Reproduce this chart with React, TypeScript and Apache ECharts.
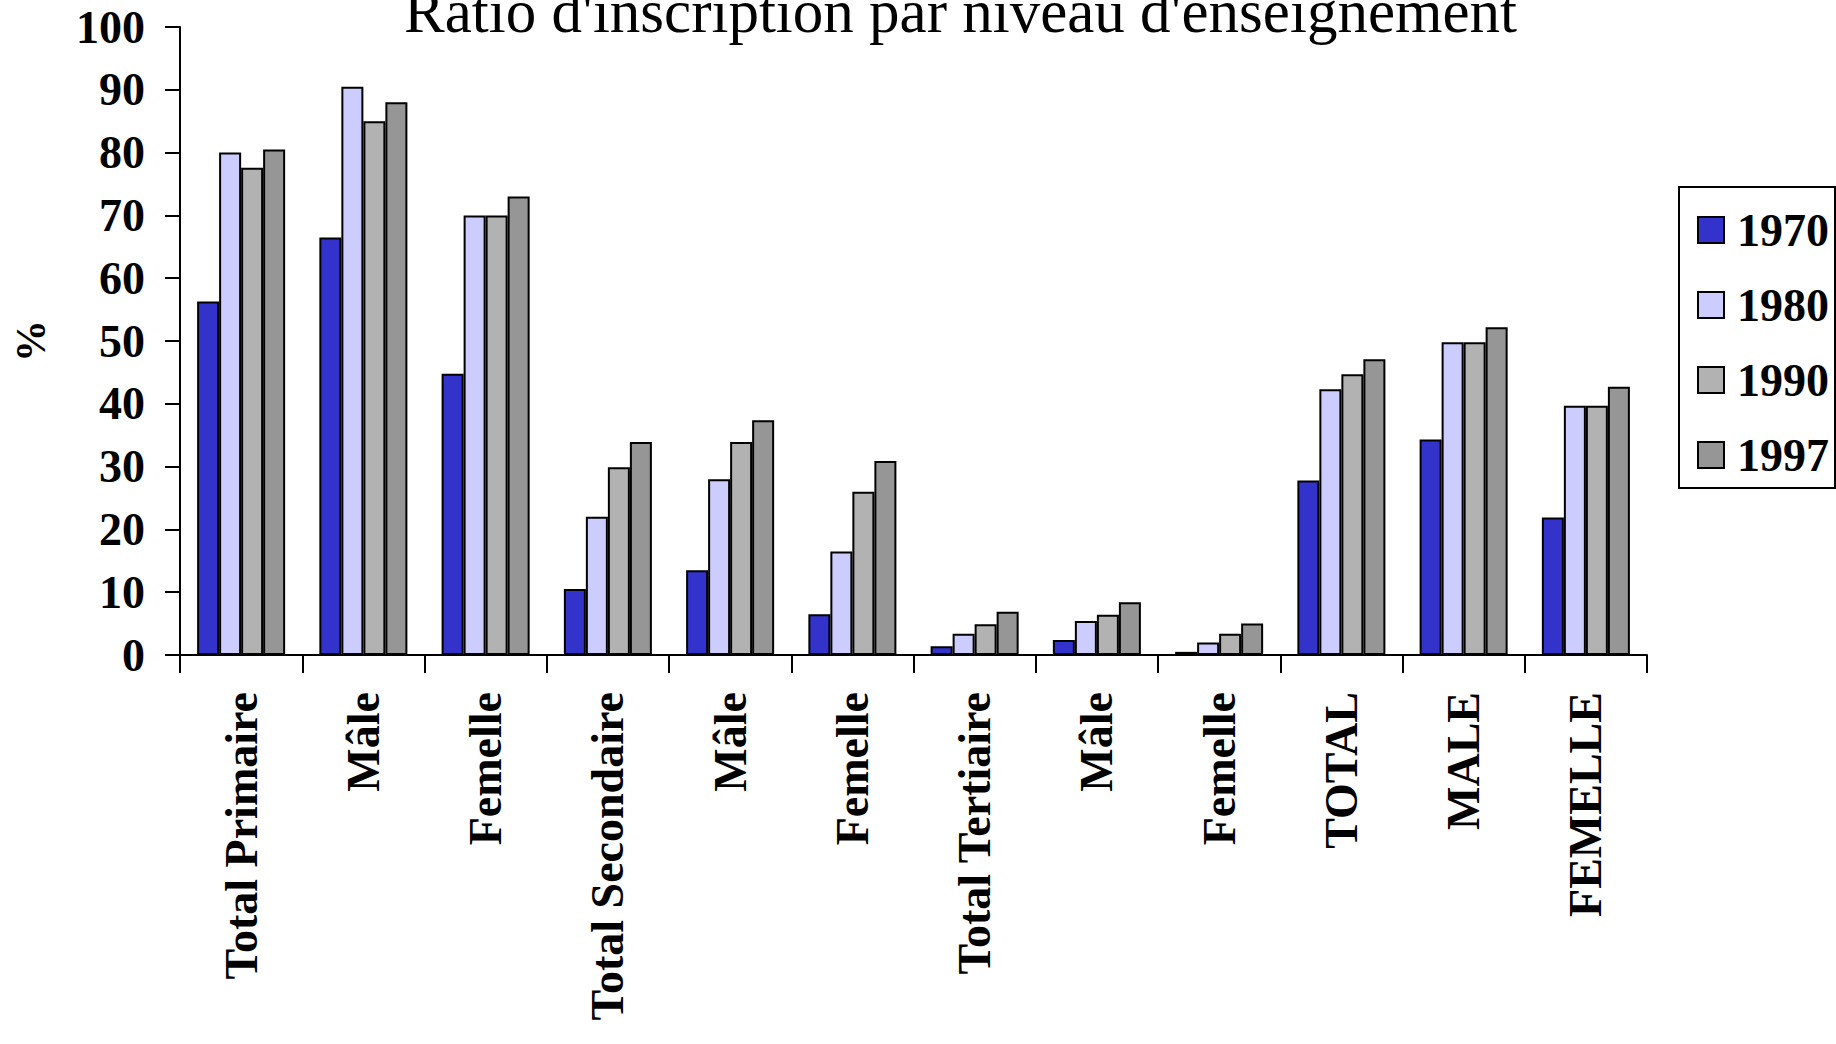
import React, { useEffect, useRef } from "react";
import * as echarts from "echarts";

const titleText = "Ratio d'inscription par niveau d'enseignement";
const categories = [
  "Total Primaire",
  "Mâle",
  "Femelle",
  "Total Secondaire",
  "Mâle",
  "Femelle",
  "Total Tertiaire",
  "Mâle",
  "Femelle",
  "TOTAL",
  "MALE",
  "FEMELLE",
];
const seriesNames = ["1970", "1980", "1990", "1997"];
const values1970 = [56.3, 66.5, 44.8, 10.5, 13.5, 6.5, 1.4, 2.4, 0.5, 27.8, 34.3, 21.9];
const values1980 = [80, 90.5, 70, 22, 28, 16.5, 3.4, 5.4, 2, 42.3, 49.8, 39.7];
const values1990 = [77.6, 85, 70, 29.9, 33.9, 26, 4.9, 6.4, 3.4, 44.7, 49.8, 39.7];
const values1997 = [80.5, 88, 73, 33.9, 37.4, 30.9, 6.9, 8.4, 5, 47.1, 52.2, 42.7];
const colors = ["#3333CC", "#CCCCFF", "#B2B2B2", "#969696"];
const yTicks = { min: 0, max: 100, interval: 10 };

const FONT = "'Liberation Serif', 'Times New Roman', serif";

export default function App() {
  const ref = useRef<HTMLDivElement>(null);

  useEffect(() => {
    document.body.style.margin = "0";
    if (!ref.current) return;
    const chart = echarts.init(ref.current, undefined, { renderer: "svg" });
    const allValues = [values1970, values1980, values1990, values1997];

    chart.setOption({
      animation: false,
      backgroundColor: "#ffffff",
      title: {
        text: titleText,
        left: 404,
        top: -19,
        padding: 0,
        textStyle: {
          fontFamily: FONT,
          fontSize: 61,
          fontWeight: "normal",
          color: "#000",
        },
      },
      legend: {
        orient: "vertical",
        left: 1679,
        top: 187,
        padding: [20, 6, 10, 18],
        itemGap: 29,
        itemWidth: 26,
        itemHeight: 26,
        icon: "rect",
        borderColor: "#000",
        borderWidth: 2,
        data: seriesNames,
        textStyle: {
          fontFamily: FONT,
          fontSize: 46,
          fontWeight: "bold",
          color: "#000",
          lineHeight: 46,
          padding: [0, 0, 0, 8],
        },
      },
      grid: {
        left: 180,
        right: 189,
        top: 27,
        bottom: 389,
        containLabel: false,
      },
      xAxis: {
        type: "category",
        data: categories,
        axisLine: { lineStyle: { color: "#000", width: 2 } },
        axisTick: { show: true, length: 18, lineStyle: { color: "#000", width: 2 } },
        axisLabel: {
          rotate: 90,
          margin: 37,
          interval: 0,
          fontFamily: FONT,
          fontSize: 46,
          fontWeight: "bold",
          color: "#000",
        },
      },
      yAxis: {
        type: "value",
        min: yTicks.min,
        max: yTicks.max,
        interval: yTicks.interval,
        name: "%",
        nameLocation: "middle",
        nameRotate: 90,
        nameGap: 128,
        nameTextStyle: {
          fontFamily: FONT,
          fontSize: 42,
          fontWeight: "bold",
          color: "#000",
        },
        splitLine: { show: false },
        axisLine: { show: true, lineStyle: { color: "#000", width: 2 } },
        axisTick: { show: true, length: 15, lineStyle: { color: "#000", width: 2 } },
        axisLabel: {
          margin: 35,
          fontFamily: FONT,
          fontSize: 46,
          fontWeight: "bold",
          color: "#000",
        },
      },
      series: seriesNames.map((name, i) => ({
        name,
        type: "bar",
        data: allValues[i],
        barGap: "0%",
        barCategoryGap: "28%",
        itemStyle: {
          color: colors[i],
          borderColor: "#000",
          borderWidth: 2,
        },
      })),
    });

    return () => chart.dispose();
  }, []);

  return <div ref={ref} style={{ width: 1836, height: 1044 }} />;
}
